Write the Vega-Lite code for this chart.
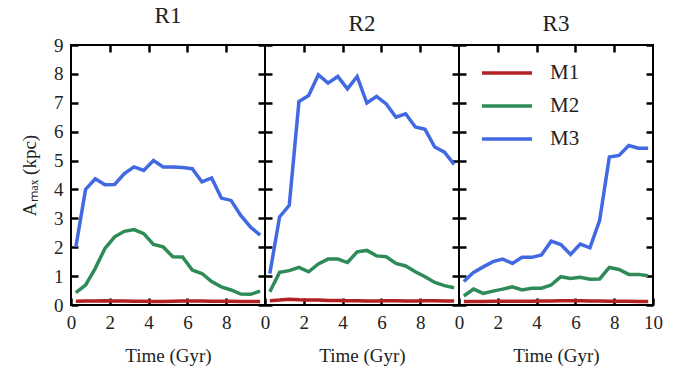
{
  "$schema": "https://vega.github.io/schema/vega-lite/v6.json",
  "background": "white",
  "padding": {"left": 19, "top": 4, "right": 5, "bottom": 5},
  "datasets": {
    "d": [
      {"R":"R1","M":"M3","t":0.25,"v":2.01},{"R":"R1","M":"M3","t":0.75,"v":4.0},{"R":"R1","M":"M3","t":1.25,"v":4.37},{"R":"R1","M":"M3","t":1.75,"v":4.16},{"R":"R1","M":"M3","t":2.25,"v":4.17},{"R":"R1","M":"M3","t":2.75,"v":4.55},{"R":"R1","M":"M3","t":3.25,"v":4.78},{"R":"R1","M":"M3","t":3.75,"v":4.66},{"R":"R1","M":"M3","t":4.25,"v":5.0},{"R":"R1","M":"M3","t":4.75,"v":4.78},{"R":"R1","M":"M3","t":5.25,"v":4.78},{"R":"R1","M":"M3","t":5.75,"v":4.76},{"R":"R1","M":"M3","t":6.25,"v":4.72},{"R":"R1","M":"M3","t":6.75,"v":4.26},{"R":"R1","M":"M3","t":7.25,"v":4.4},{"R":"R1","M":"M3","t":7.75,"v":3.7},{"R":"R1","M":"M3","t":8.25,"v":3.62},{"R":"R1","M":"M3","t":8.75,"v":3.1},{"R":"R1","M":"M3","t":9.25,"v":2.7},{"R":"R1","M":"M3","t":9.75,"v":2.42},
      {"R":"R1","M":"M2","t":0.25,"v":0.43},{"R":"R1","M":"M2","t":0.75,"v":0.69},{"R":"R1","M":"M2","t":1.25,"v":1.27},{"R":"R1","M":"M2","t":1.75,"v":1.96},{"R":"R1","M":"M2","t":2.25,"v":2.36},{"R":"R1","M":"M2","t":2.75,"v":2.55},{"R":"R1","M":"M2","t":3.25,"v":2.61},{"R":"R1","M":"M2","t":3.75,"v":2.47},{"R":"R1","M":"M2","t":4.25,"v":2.1},{"R":"R1","M":"M2","t":4.75,"v":2.01},{"R":"R1","M":"M2","t":5.25,"v":1.67},{"R":"R1","M":"M2","t":5.75,"v":1.66},{"R":"R1","M":"M2","t":6.25,"v":1.21},{"R":"R1","M":"M2","t":6.75,"v":1.09},{"R":"R1","M":"M2","t":7.25,"v":0.81},{"R":"R1","M":"M2","t":7.75,"v":0.63},{"R":"R1","M":"M2","t":8.25,"v":0.52},{"R":"R1","M":"M2","t":8.75,"v":0.38},{"R":"R1","M":"M2","t":9.25,"v":0.37},{"R":"R1","M":"M2","t":9.75,"v":0.48},
      {"R":"R1","M":"M1","t":0.25,"v":0.13},{"R":"R1","M":"M1","t":0.75,"v":0.14},{"R":"R1","M":"M1","t":1.25,"v":0.14},{"R":"R1","M":"M1","t":1.75,"v":0.15},{"R":"R1","M":"M1","t":2.25,"v":0.14},{"R":"R1","M":"M1","t":2.75,"v":0.14},{"R":"R1","M":"M1","t":3.25,"v":0.13},{"R":"R1","M":"M1","t":3.75,"v":0.13},{"R":"R1","M":"M1","t":4.25,"v":0.12},{"R":"R1","M":"M1","t":4.75,"v":0.12},{"R":"R1","M":"M1","t":5.25,"v":0.13},{"R":"R1","M":"M1","t":5.75,"v":0.14},{"R":"R1","M":"M1","t":6.25,"v":0.14},{"R":"R1","M":"M1","t":6.75,"v":0.14},{"R":"R1","M":"M1","t":7.25,"v":0.13},{"R":"R1","M":"M1","t":7.75,"v":0.13},{"R":"R1","M":"M1","t":8.25,"v":0.13},{"R":"R1","M":"M1","t":8.75,"v":0.12},{"R":"R1","M":"M1","t":9.25,"v":0.12},{"R":"R1","M":"M1","t":9.75,"v":0.12},
      {"R":"R2","M":"M3","t":0.25,"v":1.09},{"R":"R2","M":"M3","t":0.75,"v":3.05},{"R":"R2","M":"M3","t":1.25,"v":3.45},{"R":"R2","M":"M3","t":1.75,"v":7.04},{"R":"R2","M":"M3","t":2.25,"v":7.25},{"R":"R2","M":"M3","t":2.75,"v":7.97},{"R":"R2","M":"M3","t":3.25,"v":7.68},{"R":"R2","M":"M3","t":3.75,"v":7.91},{"R":"R2","M":"M3","t":4.25,"v":7.48},{"R":"R2","M":"M3","t":4.75,"v":7.91},{"R":"R2","M":"M3","t":5.25,"v":6.99},{"R":"R2","M":"M3","t":5.75,"v":7.22},{"R":"R2","M":"M3","t":6.25,"v":6.96},{"R":"R2","M":"M3","t":6.75,"v":6.5},{"R":"R2","M":"M3","t":7.25,"v":6.62},{"R":"R2","M":"M3","t":7.75,"v":6.16},{"R":"R2","M":"M3","t":8.25,"v":6.08},{"R":"R2","M":"M3","t":8.75,"v":5.47},{"R":"R2","M":"M3","t":9.25,"v":5.29},{"R":"R2","M":"M3","t":9.75,"v":4.87},
      {"R":"R2","M":"M2","t":0.25,"v":0.46},{"R":"R2","M":"M2","t":0.75,"v":1.13},{"R":"R2","M":"M2","t":1.25,"v":1.19},{"R":"R2","M":"M2","t":1.75,"v":1.3},{"R":"R2","M":"M2","t":2.25,"v":1.15},{"R":"R2","M":"M2","t":2.75,"v":1.42},{"R":"R2","M":"M2","t":3.25,"v":1.59},{"R":"R2","M":"M2","t":3.75,"v":1.59},{"R":"R2","M":"M2","t":4.25,"v":1.47},{"R":"R2","M":"M2","t":4.75,"v":1.84},{"R":"R2","M":"M2","t":5.25,"v":1.89},{"R":"R2","M":"M2","t":5.75,"v":1.7},{"R":"R2","M":"M2","t":6.25,"v":1.67},{"R":"R2","M":"M2","t":6.75,"v":1.44},{"R":"R2","M":"M2","t":7.25,"v":1.35},{"R":"R2","M":"M2","t":7.75,"v":1.15},{"R":"R2","M":"M2","t":8.25,"v":0.98},{"R":"R2","M":"M2","t":8.75,"v":0.78},{"R":"R2","M":"M2","t":9.25,"v":0.67},{"R":"R2","M":"M2","t":9.75,"v":0.6},
      {"R":"R2","M":"M1","t":0.25,"v":0.15},{"R":"R2","M":"M1","t":0.75,"v":0.17},{"R":"R2","M":"M1","t":1.25,"v":0.2},{"R":"R2","M":"M1","t":1.75,"v":0.18},{"R":"R2","M":"M1","t":2.25,"v":0.17},{"R":"R2","M":"M1","t":2.75,"v":0.17},{"R":"R2","M":"M1","t":3.25,"v":0.16},{"R":"R2","M":"M1","t":3.75,"v":0.16},{"R":"R2","M":"M1","t":4.25,"v":0.15},{"R":"R2","M":"M1","t":4.75,"v":0.15},{"R":"R2","M":"M1","t":5.25,"v":0.14},{"R":"R2","M":"M1","t":5.75,"v":0.14},{"R":"R2","M":"M1","t":6.25,"v":0.15},{"R":"R2","M":"M1","t":6.75,"v":0.15},{"R":"R2","M":"M1","t":7.25,"v":0.14},{"R":"R2","M":"M1","t":7.75,"v":0.14},{"R":"R2","M":"M1","t":8.25,"v":0.15},{"R":"R2","M":"M1","t":8.75,"v":0.15},{"R":"R2","M":"M1","t":9.25,"v":0.14},{"R":"R2","M":"M1","t":9.75,"v":0.14},
      {"R":"R3","M":"M3","t":0.25,"v":0.81},{"R":"R3","M":"M3","t":0.75,"v":1.13},{"R":"R3","M":"M3","t":1.25,"v":1.32},{"R":"R3","M":"M3","t":1.75,"v":1.5},{"R":"R3","M":"M3","t":2.25,"v":1.59},{"R":"R3","M":"M3","t":2.75,"v":1.44},{"R":"R3","M":"M3","t":3.25,"v":1.65},{"R":"R3","M":"M3","t":3.75,"v":1.65},{"R":"R3","M":"M3","t":4.25,"v":1.73},{"R":"R3","M":"M3","t":4.75,"v":2.21},{"R":"R3","M":"M3","t":5.25,"v":2.09},{"R":"R3","M":"M3","t":5.75,"v":1.75},{"R":"R3","M":"M3","t":6.25,"v":2.11},{"R":"R3","M":"M3","t":6.75,"v":1.98},{"R":"R3","M":"M3","t":7.25,"v":2.93},{"R":"R3","M":"M3","t":7.75,"v":5.12},{"R":"R3","M":"M3","t":8.25,"v":5.18},{"R":"R3","M":"M3","t":8.75,"v":5.52},{"R":"R3","M":"M3","t":9.25,"v":5.43},{"R":"R3","M":"M3","t":9.75,"v":5.43},
      {"R":"R3","M":"M2","t":0.25,"v":0.31},{"R":"R3","M":"M2","t":0.75,"v":0.55},{"R":"R3","M":"M2","t":1.25,"v":0.4},{"R":"R3","M":"M2","t":1.75,"v":0.48},{"R":"R3","M":"M2","t":2.25,"v":0.55},{"R":"R3","M":"M2","t":2.75,"v":0.63},{"R":"R3","M":"M2","t":3.25,"v":0.52},{"R":"R3","M":"M2","t":3.75,"v":0.58},{"R":"R3","M":"M2","t":4.25,"v":0.58},{"R":"R3","M":"M2","t":4.75,"v":0.69},{"R":"R3","M":"M2","t":5.25,"v":0.98},{"R":"R3","M":"M2","t":5.75,"v":0.92},{"R":"R3","M":"M2","t":6.25,"v":0.96},{"R":"R3","M":"M2","t":6.75,"v":0.89},{"R":"R3","M":"M2","t":7.25,"v":0.9},{"R":"R3","M":"M2","t":7.75,"v":1.3},{"R":"R3","M":"M2","t":8.25,"v":1.23},{"R":"R3","M":"M2","t":8.75,"v":1.06},{"R":"R3","M":"M2","t":9.25,"v":1.06},{"R":"R3","M":"M2","t":9.75,"v":1.01},
      {"R":"R3","M":"M1","t":0.25,"v":0.12},{"R":"R3","M":"M1","t":0.75,"v":0.12},{"R":"R3","M":"M1","t":1.25,"v":0.12},{"R":"R3","M":"M1","t":1.75,"v":0.13},{"R":"R3","M":"M1","t":2.25,"v":0.13},{"R":"R3","M":"M1","t":2.75,"v":0.13},{"R":"R3","M":"M1","t":3.25,"v":0.13},{"R":"R3","M":"M1","t":3.75,"v":0.13},{"R":"R3","M":"M1","t":4.25,"v":0.14},{"R":"R3","M":"M1","t":4.75,"v":0.14},{"R":"R3","M":"M1","t":5.25,"v":0.15},{"R":"R3","M":"M1","t":5.75,"v":0.15},{"R":"R3","M":"M1","t":6.25,"v":0.15},{"R":"R3","M":"M1","t":6.75,"v":0.14},{"R":"R3","M":"M1","t":7.25,"v":0.14},{"R":"R3","M":"M1","t":7.75,"v":0.13},{"R":"R3","M":"M1","t":8.25,"v":0.13},{"R":"R3","M":"M1","t":8.75,"v":0.13},{"R":"R3","M":"M1","t":9.25,"v":0.12},{"R":"R3","M":"M1","t":9.75,"v":0.12}
    ]
  },
  "data": {"name": "d"},
  "spacing": 0,
  "bounds": "flush",
  "resolve": {"legend": {"color": "independent"}},
  "hconcat": [
    {
      "width": 194, "height": 260,
      "title": {"text": "R1"},
      "transform": [{"filter": "datum.R === 'R1'"}],
      "layer": [
        {
          "mark": {"type": "line", "strokeWidth": 3.5},
          "encoding": {
            "x": {"field": "t", "type": "quantitative", "scale": {"domain": [0, 10], "nice": false}, "axis": {"orient": "bottom", "values": [0, 2, 4, 6, 8], "title": "Time (Gyr)"}},
            "y": {"field": "v", "type": "quantitative", "scale": {"domain": [0, 9], "nice": false}, "axis": {"orient": "left", "values": [0,1,2,3,4,5,6,7,8,9], "title": "Aₘₐₓ (kpc)"}},
            "color": {"field": "M", "type": "nominal", "scale": {"domain": ["M1","M2","M3"], "range": ["#b22222","#2e8b57","#4169e1"]}, "legend": null}
          }
        },
        {
          "mark": {"type": "line", "opacity": 0},
          "encoding": {
            "x": {"field": "t", "type": "quantitative", "axis": {"orient": "top", "values": [2, 4, 6, 8], "labels": false, "title": null}},
            "y": {"field": "v", "type": "quantitative", "axis": {"orient": "right", "values": [0,1,2,3,4,5,6,7,8,9], "labels": false, "title": null}}
          }
        }
      ],
      "resolve": {"axis": {"x": "independent", "y": "independent"}}
    },
    {
      "width": 194, "height": 260,
      "title": {"text": "R2"},
      "transform": [{"filter": "datum.R === 'R2'"}],
      "layer": [
        {
          "mark": {"type": "line", "strokeWidth": 3.5},
          "encoding": {
            "x": {"field": "t", "type": "quantitative", "scale": {"domain": [0, 10], "nice": false}, "axis": {"orient": "bottom", "values": [0, 2, 4, 6, 8], "title": "Time (Gyr)"}},
            "y": {"field": "v", "type": "quantitative", "scale": {"domain": [0, 9], "nice": false}, "axis": {"orient": "left", "values": [0,1,2,3,4,5,6,7,8,9], "labels": false, "title": null}},
            "color": {"field": "M", "type": "nominal", "scale": {"domain": ["M1","M2","M3"], "range": ["#b22222","#2e8b57","#4169e1"]}, "legend": null}
          }
        },
        {
          "mark": {"type": "line", "opacity": 0},
          "encoding": {
            "x": {"field": "t", "type": "quantitative", "axis": {"orient": "top", "values": [2, 4, 6, 8], "labels": false, "title": null}},
            "y": {"field": "v", "type": "quantitative", "axis": {"orient": "right", "values": [0,1,2,3,4,5,6,7,8,9], "labels": false, "title": null}}
          }
        }
      ],
      "resolve": {"axis": {"x": "independent", "y": "independent"}}
    },
    {
      "width": 194, "height": 260,
      "title": {"text": "R3"},
      "transform": [{"filter": "datum.R === 'R3'"}],
      "layer": [
        {
          "mark": {"type": "line", "strokeWidth": 3.5},
          "encoding": {
            "x": {"field": "t", "type": "quantitative", "scale": {"domain": [0, 10], "nice": false}, "axis": {"orient": "bottom", "values": [0, 2, 4, 6, 8, 10], "title": "Time (Gyr)"}},
            "y": {"field": "v", "type": "quantitative", "scale": {"domain": [0, 9], "nice": false}, "axis": {"orient": "left", "values": [0,1,2,3,4,5,6,7,8,9], "labels": false, "title": null}},
            "color": {"field": "M", "type": "nominal", "title": null, "scale": {"domain": ["M1","M2","M3"], "range": ["#b22222","#2e8b57","#4169e1"]},
              "legend": {"orient": "none", "legendX": 36, "legendY": 16, "symbolType": "M-2.5,0L2.5,0", "symbolSize": 400, "symbolStrokeWidth": 3.5, "labelOffset": 31, "rowPadding": 11, "labelFont": "Liberation Serif", "labelFontSize": 21, "labelColor": "#222"}}
          }
        },
        {
          "mark": {"type": "line", "opacity": 0},
          "encoding": {
            "x": {"field": "t", "type": "quantitative", "axis": {"orient": "top", "values": [2, 4, 6, 8], "labels": false, "title": null}},
            "y": {"field": "v", "type": "quantitative", "axis": {"orient": "right", "values": [0,1,2,3,4,5,6,7,8,9], "labels": false, "title": null}}
          }
        }
      ],
      "resolve": {"axis": {"x": "independent", "y": "independent"}}
    }
  ],
  "config": {
    "font": "Liberation Serif",
    "view": {"stroke": "black", "strokeWidth": 2},
    "title": {"font": "Liberation Serif", "fontSize": 23, "fontWeight": "normal", "color": "#222", "offset": 8},
    "axis": {
      "domain": false, "grid": false, "ticks": true,
      "offset": -7, "tickSize": 7, "tickWidth": 2.5, "tickColor": "black",
      "labelFont": "Liberation Serif", "labelFontSize": 19, "labelColor": "#222", "labelPadding": 8,
      "titleFont": "Liberation Serif", "titleFontSize": 19, "titleFontWeight": "normal", "titleColor": "#222",
      "labelFlush": false, "labelOverlap": false
    },
    "axisX": {"titlePadding": 14},
    "axisY": {"titlePadding": 14}
  }
}
